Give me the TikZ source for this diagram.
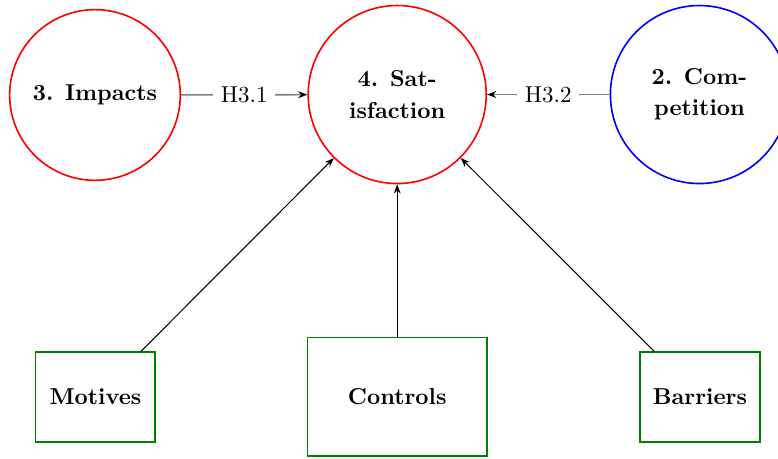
\documentclass[tikz,border=0pt]{standalone}
\usetikzlibrary{arrows.meta}
\definecolor{boxgreen}{RGB}{0,128,0}
\tikzset{
  construct/.style={circle, draw, line width=0.7pt, font=\bfseries, align=center, inner sep=0pt},
  measure/.style={rectangle, draw=boxgreen, line width=0.7pt, font=\bfseries},
  hyp/.style={draw=gray, line width=0.7pt, -{Stealth[black, length=4pt, width=3pt]}},
  infl/.style={draw=black, line width=0.45pt, -{Stealth[length=4pt, width=3pt]}},
  hyplabel/.style={fill=white, font=\normalfont}
}
\begin{document}
\begin{tikzpicture}[x=1pt,y=1pt]
\useasboundingbox (0,0) rectangle (338.26,-199.13);
% constructs
\node[construct, draw=red, minimum size=74.2pt] (imp) at (41.3,-41.3) {3. Impacts};
\node[construct, draw=red, minimum size=77.4pt] (sat) at (172.7,-41.1) {4. Sat-\\[1.5pt]isfaction};
\node[construct, draw=blue, minimum size=77.4pt] (comp) at (304.1,-41.1) {2. Com-\\[1.5pt]petition};
% measured factors
\node[measure, minimum width=52.0pt, minimum height=39.0pt] (mot) at (41.5,-172.6) {Motives};
\node[measure, minimum width=78.1pt, minimum height=51.7pt] (ctl) at (172.7,-172.5) {Controls};
\node[measure, minimum width=52.2pt, minimum height=39.0pt] (bar) at (304.3,-172.6) {Barriers};
% hypotheses
\draw[hyp] (imp) -- node[hyplabel] {H3.1} (sat);
\draw[hyp] (comp) -- node[hyplabel] {H3.2} (sat);
% influences on satisfaction
\draw[infl] (mot) -- (sat);
\draw[infl] (ctl) -- (sat);
\draw[infl] (bar) -- (sat);
\end{tikzpicture}
\end{document}
